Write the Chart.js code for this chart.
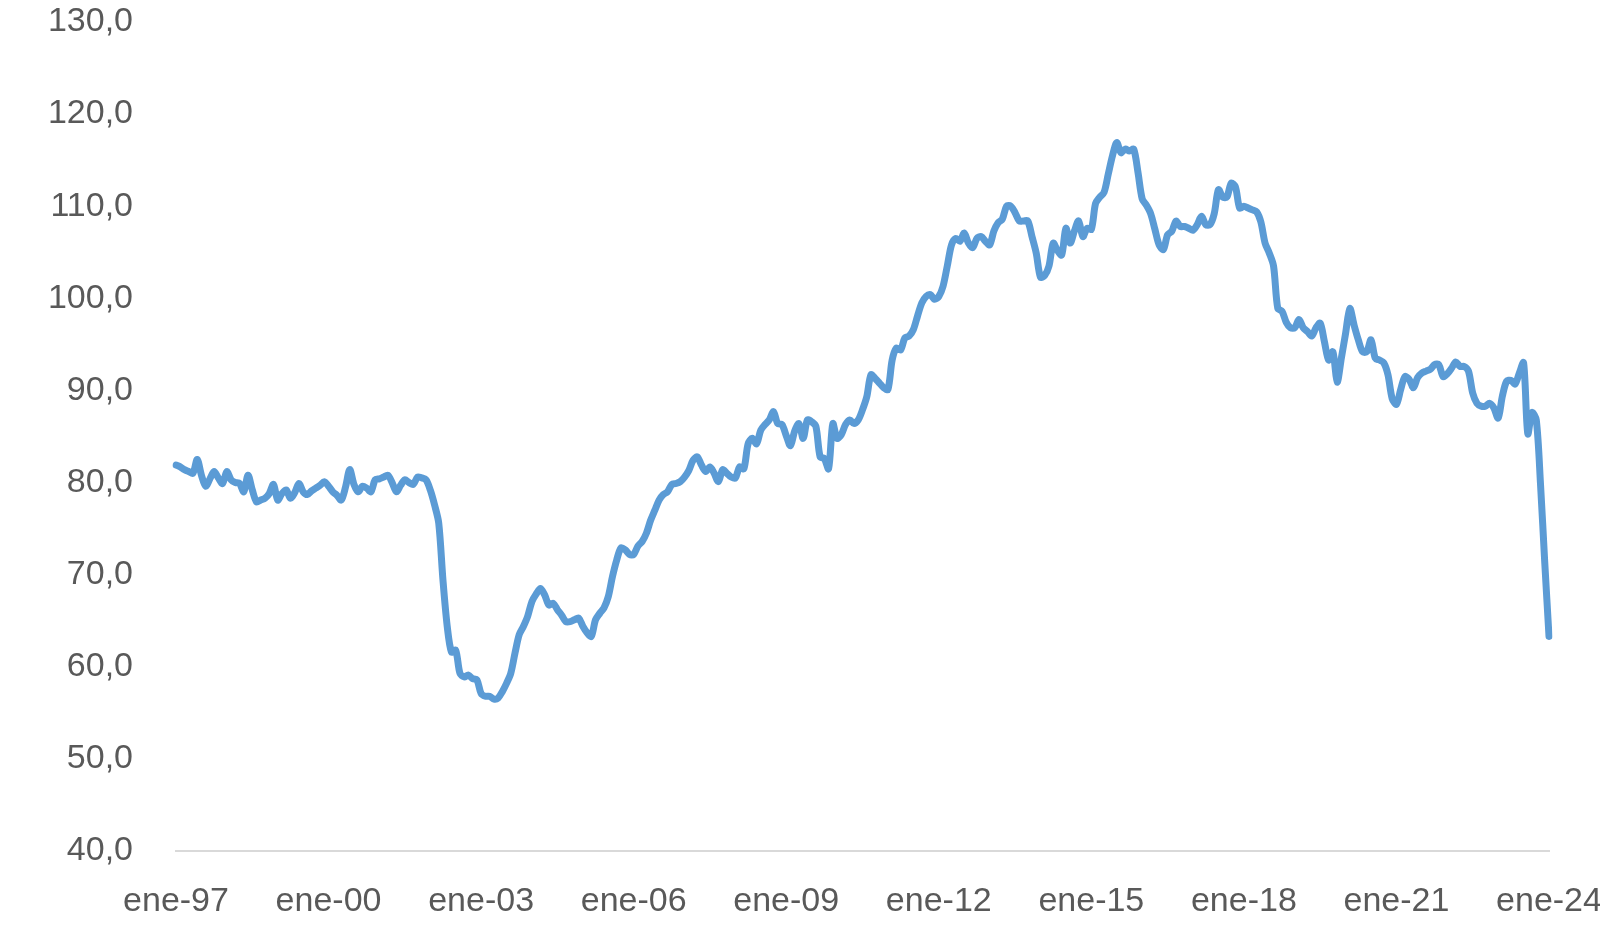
<!DOCTYPE html>
<html>
<head>
<meta charset="utf-8">
<script src="https://cdn.jsdelivr.net/npm/chart.js@4.4.1/dist/chart.umd.min.js"></script>
<style>
  html, body { margin: 0; padding: 0; background: #ffffff; }
  #wrap { width: 1600px; height: 928px; }
</style>
</head>
<body>
<div id="wrap"><canvas id="grafica"></canvas></div>
<script>
// meses en español para las etiquetas
const meses = ["ene", "feb", "mar", "abr", "may", "jun", "jul", "ago", "sep", "oct", "nov", "dic"];

// valores mensuales, un array por año
const v1997 = [81.9, 81.7, 81.4, 81.2, 81.0, 82.5, 80.8, 79.6, 80.4, 81.2, 80.5, 79.9];
const v1998 = [81.2, 80.3, 80.0, 79.9, 79.0, 80.8, 79.2, 77.9, 78.1, 78.3, 78.8, 79.8];
const v1999 = [78.1, 78.8, 79.2, 78.3, 78.9, 79.9, 79.0, 78.7, 79.1, 79.4, 79.7, 80.1];
const v2000 = [79.6, 79.0, 78.6, 78.1, 79.5, 81.4, 79.8, 79.0, 79.6, 79.4, 79.0, 80.3];
const v2001 = [80.4, 80.6, 80.8, 80.0, 79.0, 79.7, 80.3, 80.0, 79.8, 80.6, 80.5, 80.3];
const v2002 = [79.2, 77.6, 75.6, 69.4, 64.4, 61.6, 61.8, 59.3, 58.9, 59.1, 58.7, 58.6];
const v2003 = [57.1, 56.8, 56.8, 56.5, 56.6, 57.3, 58.2, 59.3, 61.5, 63.5, 64.4, 65.5];
const v2004 = [67.1, 67.9, 68.5, 67.8, 66.7, 66.9, 66.2, 65.6, 64.9, 64.9, 65.1, 65.3];
const v2005 = [64.4, 63.7, 63.3, 65.1, 65.8, 66.4, 67.6, 69.8, 71.6, 72.9, 72.7, 72.2];
const v2006 = [72.2, 73.1, 73.6, 74.5, 75.9, 77.0, 78.1, 78.7, 79.0, 79.8, 79.9, 80.1];
const v2007 = [80.6, 81.3, 82.4, 82.8, 81.9, 81.2, 81.7, 81.0, 80.1, 81.4, 81.0, 80.6];
const v2008 = [80.5, 81.7, 81.5, 84.2, 84.8, 84.2, 85.7, 86.3, 86.8, 87.7, 86.4, 86.3];
const v2009 = [85.1, 84.0, 85.6, 86.4, 84.8, 86.8, 86.6, 86.1, 82.8, 82.6, 81.5, 86.4];
const v2010 = [84.8, 85.2, 86.3, 86.8, 86.4, 86.8, 87.9, 89.3, 91.7, 91.3, 90.8, 90.3];
const v2011 = [90.1, 93.3, 94.6, 94.4, 95.7, 95.9, 96.6, 98.1, 99.5, 100.2, 100.4, 99.9];
const v2012 = [100.2, 101.3, 103.5, 105.8, 106.5, 106.2, 107.1, 106.0, 105.5, 106.5, 106.7, 106.2];
const v2013 = [105.8, 107.3, 108.2, 108.6, 110.0, 110.0, 109.3, 108.4, 108.4, 108.4, 106.7, 104.9];
const v2014 = [102.3, 102.5, 103.5, 106.0, 105.2, 104.7, 107.6, 106.0, 107.3, 108.4, 106.7, 107.6];
const v2015 = [107.5, 110.3, 111.0, 111.5, 113.5, 115.5, 116.9, 115.8, 116.2, 116.0, 116.2, 113.7];
const v2016 = [110.8, 110.1, 109.2, 107.5, 105.8, 105.3, 106.9, 107.3, 108.4, 107.8, 107.8, 107.6];
const v2017 = [107.4, 108.0, 108.9, 108.0, 108.0, 109.2, 111.8, 111.0, 111.0, 112.5, 112.1, 109.8];
const v2018 = [110.0, 109.8, 109.6, 109.4, 108.3, 106.0, 104.9, 103.5, 98.9, 98.6, 97.4, 96.8];
const v2019 = [96.8, 97.7, 96.8, 96.4, 95.9, 96.8, 97.3, 95.3, 93.3, 94.2, 90.9, 93.5];
const v2020 = [96.2, 98.9, 97.1, 95.5, 94.2, 94.2, 95.5, 93.5, 93.3, 93.0, 91.7, 89.1];
const v2021 = [88.5, 90.1, 91.5, 91.2, 90.3, 91.4, 91.9, 92.1, 92.3, 92.8, 92.8, 91.5];
const v2022 = [91.8, 92.4, 93.1, 92.6, 92.6, 92.1, 89.7, 88.6, 88.3, 88.3, 88.6, 88.1];
const v2023 = [87.0, 89.4, 91.0, 91.1, 90.7, 91.9, 93.0, 85.3, 87.6, 86.8, 79.8, 71.3];
const v2024 = [63.3];

const anios = [v1997, v1998, v1999, v2000, v2001, v2002, v2003, v2004, v2005, v2006,
  v2007, v2008, v2009, v2010, v2011, v2012, v2013, v2014, v2015, v2016,
  v2017, v2018, v2019, v2020, v2021, v2022, v2023, v2024];

const valores = [];
const etiquetas = [];
anios.forEach((arr, i) => {
  const yy = String((1997 + i) % 100).padStart(2, "0");
  arr.forEach((v, m) => {
    valores.push(v);
    etiquetas.push(meses[m] + "-" + yy);
  });
});

// eje y: 40,0 a 130,0 de 10 en 10
const yMin = 40;
const yMax = 130;
const yPaso = 10;

const fuente = { family: "'Liberation Sans', Arial, sans-serif", size: 34 };
const gris = "#595959";

const ctx = document.getElementById("grafica");
const grafica = new Chart(ctx, {
  type: "line",
  data: {
    labels: etiquetas,
    datasets: [
      {
        data: valores,
        borderColor: "#5B9BD5",
        backgroundColor: "#5B9BD5",
        borderWidth: 7,
        pointRadius: 0,
        tension: 0.3,
        borderJoinStyle: "round",
        borderCapStyle: "round",
        fill: false,
      },
    ],
  },
  options: {
    responsive: true,
    maintainAspectRatio: false,
    animation: false,
    layout: {
      padding: { top: 22, right: 51, bottom: 0, left: 0 },
    },
    scales: {
      x: {
        type: "category",
        offset: false,
        grid: { display: false, drawTicks: false },
        border: { display: true, color: "#D9D9D9", width: 2 },
        ticks: {
          autoSkip: false,
          maxRotation: 0,
          minRotation: 0,
          padding: 30,
          color: gris,
          font: fuente,
          callback: function (val, idx) {
            return idx % 36 === 0 ? this.getLabelForValue(val) : null;
          },
        },
        afterFit: function (scale) {
          scale.height = 77;
          scale.paddingLeft = 0;
          scale.paddingRight = 0;
        },
      },
      y: {
        min: yMin,
        max: yMax,
        grid: { display: false, drawTicks: false },
        border: { display: false },
        ticks: {
          stepSize: yPaso,
          padding: 43,
          color: gris,
          font: fuente,
          callback: (v) => v.toFixed(1).replace(".", ","),
        },
        afterFit: function (scale) {
          scale.width = 176;
          scale.paddingTop = 0;
          scale.paddingBottom = 0;
        },
      },
    },
    plugins: {
      legend: {
        display: false,
      },
      tooltip: {
        enabled: false,
      },
    },
  },
});
</script>
</body>
</html>
